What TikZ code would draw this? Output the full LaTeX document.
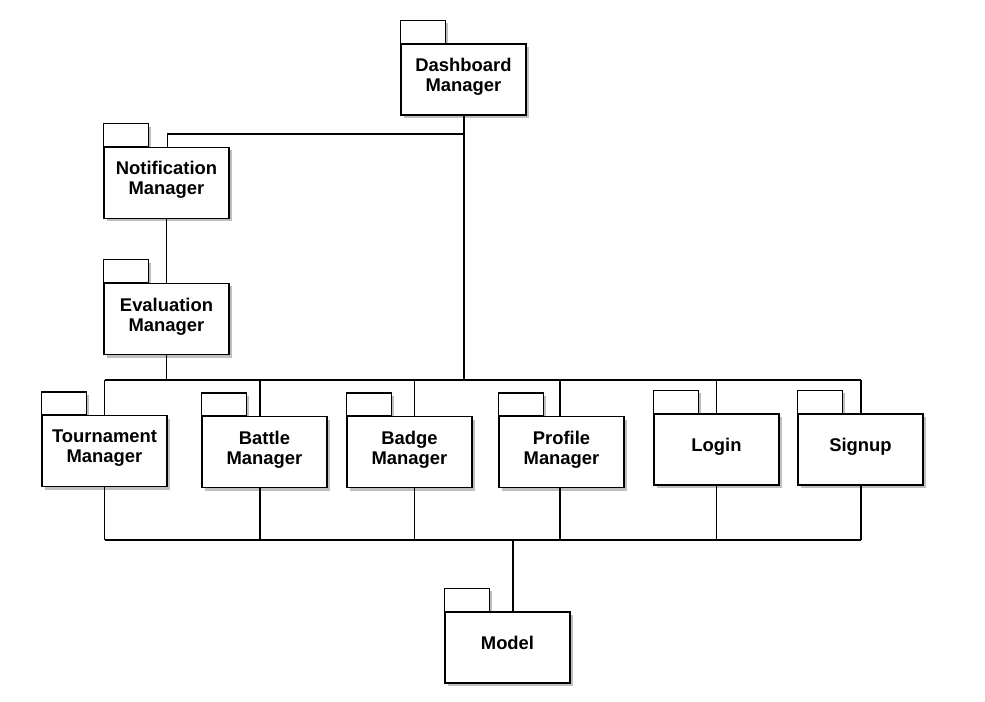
\documentclass[tikz,border=0pt]{standalone}
\usepackage{fontspec}
\setmainfont{Liberation Sans}
\usetikzlibrary{shadows}

\tikzset{
  pkg/.style={draw, fill=white, line width=1pt, inner sep=0pt, align=center,
    minimum width=93.75pt, minimum height=53.25pt, text depth=7pt,
    font=\bfseries\fontsize{13.8}{15}\selectfont,
    drop shadow={shadow xshift=2.25pt, shadow yshift=-2.25pt, fill=black!25, opacity=1}},
  pkgtab/.style={draw, fill=white, line width=1pt},
  conn/.style={line width=1pt},
  trunk/.style={line width=1.5pt}
}

\begin{document}
\begin{tikzpicture}[x=0.75pt, y=-0.75pt]

\useasboundingbox (0,0) rectangle (985,702);

\node (dash) at (463.5,79.5) [pkg] {Dashboard\\Manager};
\node (notif) at (166.5,183) [pkg] {Notification\\Manager};
\node (eval) at (166.5,319) [pkg] {Evaluation\\Manager};
\node (tourn) at (104.5,451) [pkg] {Tournament\\Manager};
\node (battle) at (264.5,452) [pkg] {Battle\\Manager};
\node (badge) at (409.5,452) [pkg] {Badge\\Manager};
\node (prof) at (561.5,452) [pkg] {Profile\\Manager};
\node (login) at (716.5,449.5) [pkg] {Login};
\node (sign) at (860.5,449.5) [pkg] {Signup};
\node (model) at (507.5,647.5) [pkg] {Model};

\foreach \n in {dash,notif,eval,tourn,battle,badge,prof,login,sign,model} {
  \fill [black!25] ([shift={(3,0)}]\n.north west) rectangle ++(45,-20);
  \draw [pkgtab] (\n.north west) rectangle ++(45,-23);
}

\coordinate (jd) at (0,134);
\coordinate (busT) at (0,380);
\coordinate (busB) at (0,540);

\draw [trunk] (dash.south) -- (dash.south |- busT);
\draw [conn] (dash.south |- jd) -| ([shift={(1,0)}]notif.north);
\draw [conn] (notif.south) -- (eval.north);
\draw [conn] (eval.south) -- (eval.south |- busT);

\draw [conn] (tourn.north |- busT) -- ([shift={(0.5,0)}]sign.north |- busT);
\draw [conn] (tourn.south |- busB) -- ([shift={(0.5,0)}]sign.south |- busB);

\foreach \n/\dx in {tourn/0,battle/-4.5,badge/5,prof/-1.5,login/0,sign/0.5} {
  \draw [conn] ([shift={(\dx,0)}]\n.north) -- ([shift={(\dx,0)}]\n.north |- busT);
  \draw [conn] ([shift={(\dx,0)}]\n.south) -- ([shift={(\dx,0)}]\n.south |- busB);
}

\draw [trunk] ([shift={(5.5,0)}]model.north) -- ([shift={(5.5,0)}]model.north |- busB);

\end{tikzpicture}
\end{document}
